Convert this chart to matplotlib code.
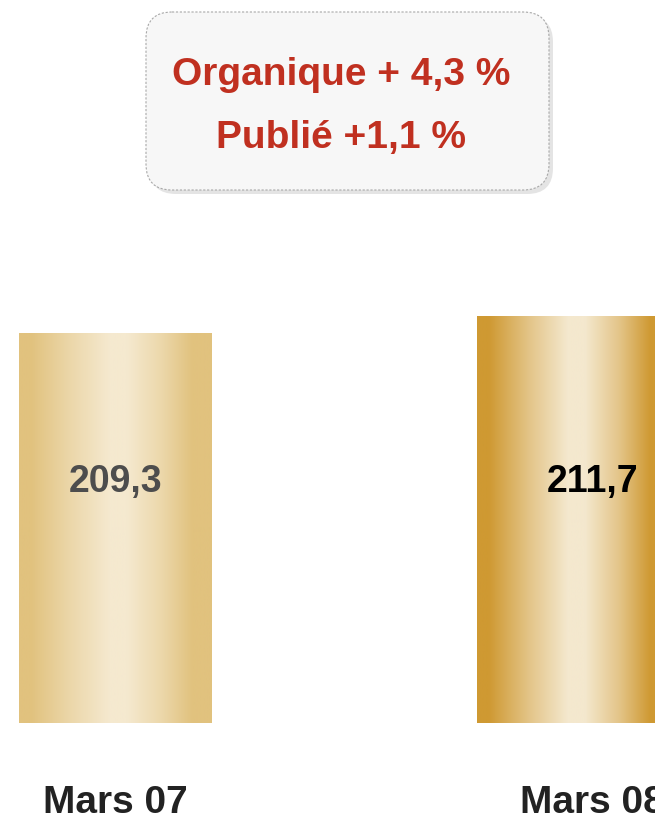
import numpy as np
import matplotlib.pyplot as plt
from matplotlib.patches import FancyBboxPatch
from matplotlib.colors import LinearSegmentedColormap, to_rgb

# data
categories = ["Mars 07", "Mars 08"]
values = [209.3, 211.7]
value_labels = ["209,3", "211,7"]
box_lines = ["Organique + 4,3 %", "Publié +1,1 %"]

base = 154.4  # axis does not start at zero in the original
FONT = "Liberation Sans"

fig = plt.figure(figsize=(6.55, 8.18), dpi=100)
ax = fig.add_axes([0, 0, 1, 1])
ax.axis("off")

width = 0.4214
x = np.arange(len(categories))
bars = ax.bar(x, np.array(values) - base, bottom=base, width=width,
              facecolor="none", edgecolor="none")


def mix(a, b, t):
    a, b = np.array(to_rgb(a)), np.array(to_rgb(b))
    return tuple(a + (b - a) * t)


# gradient stops: edge -> light -> edge
edge_cols = ["#E1C27E", "#CF9932"]
light_cols = ["#F5E9CF", "#F4E8CE"]
stops = [0.0, 0.06, 0.27, 0.47, 0.56, 0.74, 0.9, 1.0]
weights = [0, 0, 0.55, 1, 1, 0.55, 0, 0]
for i, b in enumerate(bars):
    e, l = edge_cols[i], light_cols[i]
    cmap = LinearSegmentedColormap.from_list(
        "g%d" % i, [(s, mix(e, l, w)) for s, w in zip(stops, weights)])
    grad = np.linspace(0, 1, 256).reshape(1, -1)
    x0, y0 = b.get_x(), b.get_y()
    im = ax.imshow(grad, cmap=cmap, aspect="auto",
                   extent=(x0, x0 + b.get_width(), y0, y0 + b.get_height()),
                   zorder=2)
    im.set_clip_path(b)

# value labels inside bars, category labels below
label_shift = [0, 0.042]
label_cols = ["#4D4D4D", "#000000"]
for i, b in enumerate(bars):
    ax.text(x[i] + label_shift[i], base + 34.0, value_labels[i],
            ha="center", va="center", fontsize=27, fontweight="bold",
            color=label_cols[i], family=FONT, zorder=3)
    ax.text(x[i] + label_shift[i] - 0.001, base - 11.3, categories[i],
            ha="center", va="center", fontsize=28, fontweight="bold",
            color="#222222", family=FONT, zorder=3)
ax.set_xlim(-0.2522, 1.178)
ax.set_ylim(base - 95 / 7.1, base + 723 / 7.1)

# callout box in pixel coordinates
ov = fig.add_axes([0, 0, 1, 1], facecolor="none")
ov.set_xlim(0, 655)
ov.set_ylim(818, 0)
ov.axis("off")
shadow = FancyBboxPatch((150, 16), 403, 178,
                        boxstyle="round,pad=0,rounding_size=26",
                        facecolor="#E4E4E4", edgecolor="none")
ov.add_patch(shadow)
box = FancyBboxPatch((146, 12), 403, 178,
                     boxstyle="round,pad=0,rounding_size=26",
                     facecolor="#F7F7F7", edgecolor="#A8A8A8",
                     linewidth=0.8, linestyle=(0, (2, 1.5)))
ov.add_patch(box)
ov.text(341, 75, box_lines[0], ha="center", va="center", fontsize=28,
        fontweight="bold", color="#C03020", family=FONT)
ov.text(341, 138, box_lines[1], ha="center", va="center", fontsize=28,
        fontweight="bold", color="#C03020", family=FONT)

fig.savefig("out.png", dpi=100)
